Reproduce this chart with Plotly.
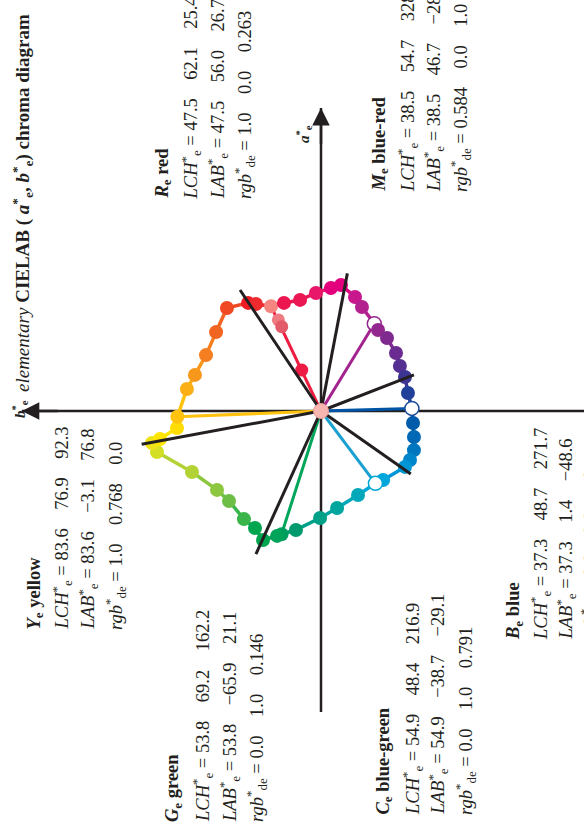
import plotly.graph_objects as go

# ---------------- data (CIELAB a*, b*) ----------------
# hue circle, going round from R_e
circle_a = [56.0, 57.8, 59.4, 63.1, 65.8, 67.4, 61.0, 55.6, 46.7, 43.3, 39.0, 31.0, 24.1, 18.2, 9.6,
            1.4, -6.4, -13.9, -20.9, -26.2, -29.9, -36.9, -38.7, -44.9, -51.9, -57.2, -63.6, -65.9,
            -66.8, -69.0, -62.6, -57.8, -48.1, -42.2, -32.6, -21.9, -17.1, -15.0, -9.1, -3.1,
            11.8, 19.3, 29.9, 42.2, 55.1, 57.8, 57.2]
circle_b = [26.7, 19.8, 11.2, 2.7, -5.3, -10.7, -18.2, -21.9, -28.5, -30.5, -35.3, -40.1, -42.2, -44.9, -46.5,
            -48.6, -49.2, -49.7, -49.7, -47.6, -44.9, -33.2, -29.1, -19.8, -8.6, 0.5, 13.4, 21.1,
            23.5, 31.0, 35.3, 41.2, 49.2, 55.6, 69.0, 87.7, 90.4, 86.1, 77.0, 76.8,
            71.7, 67.4, 61.5, 56.1, 50.3, 39.0, 34.8]
circle_fill = ["#F4857F", "#EC1651", "#EB1654", "#E8176A", "#E4007C", "#E2007F", "#C9168C", "#B3218F",
               "#FFFFFF", "#92278F", "#7F2A8F", "#6A2C91", "#553092", "#3D3594", "#21409A",
               "#FFFFFF", "#005BAA", "#0068B5", "#0076BF", "#0085CA", "#0096D6", "#00A6DC",
               "#FFFFFF", "#00A8BA", "#00A59E", "#00A187", "#009A6E", "#009E5E",
               "#00A35A", "#00A550", "#00A650", "#39B54A", "#6DBE45", "#8DC63F", "#B3D334",
               "#D3DE24", "#EEE31B", "#FFE500", "#FFDD00", "#FFC20E",
               "#FBAF17", "#F7981D", "#F47E20", "#F16522", "#EF4A24", "#ED1C24", "#EE2A2E"]
circle_line = ["#EE2A4E", "#EC1651", "#EB1654", "#E8176A", "#E4007C", "#E2007F", "#C9168C", "#B3218F",
               "#93278F", "#92278F", "#7F2A8F", "#6A2C91", "#553092", "#3D3594", "#21409A",
               "#1B4C9C", "#005BAA", "#0068B5", "#0076BF", "#0085CA", "#0096D6", "#00A6DC",
               "#00A6D6", "#00A8BA", "#00A59E", "#00A187", "#009A6E", "#009E5E",
               "#00A35A", "#00A550", "#00A650", "#39B54A", "#6DBE45", "#8DC63F", "#B3D334",
               "#D3DE24", "#EEE31B", "#FFE500", "#FFDD00", "#FFC20E",
               "#FBAF17", "#F7981D", "#F47E20", "#F16522", "#EF4A24", "#ED1C24", "#EE2A2E"]

# elementary hues: radial coloured lines from the origin
elem_names = ["R", "Y", "G", "C", "B", "M"]
elem_a = [56.0, -3.1, -65.9, -38.7, 1.4, 46.7]
elem_b = [26.7, 76.8, 21.1, -29.1, -48.6, -28.5]
elem_line_colors = ["#ED1C40", "#FFC20E", "#00A65A", "#1BA1D1", "#0054A6", "#A3238E"]

# extra dots on the red radial line
red_dots_a = [48.7, 45.1, 21.9]
red_dots_b = [22.8, 21.0, 10.3]
red_dots_colors = ["#EE7A82", "#E35A68", "#ED1C45"]

# black reference lines (end points a*, b*)
black_a = [64.7, 73.6, 19.3, -33.7, -17.8, -76.5]
black_b = [43.3, -14.1, -49.7, -48.0, 95.9, 34.8]

# text data
blocks = [
    ("<b><i>Y</i><sub>e</sub> yellow</b>", ["83.6", "76.9", "92.3"], ["83.6", "\u22123.1", "76.8"], ["1.0", "0.768", "0.0"]),
    ("<b><i>R</i><sub>e</sub> red</b>", ["47.5", "62.1", "25.4"], ["47.5", "56.0", "26.7"], ["1.0", "0.0", "0.263"]),
    ("<b><i>M</i><sub>e</sub> blue-red</b>", ["38.5", "54.7", "328.6"], ["38.5", "46.7", "\u221228.5"], ["0.584", "0.0", "1.0"]),
    ("<b><i>G</i><sub>e</sub> green</b>", ["53.8", "69.2", "162.2"], ["53.8", "\u221265.9", "21.1"], ["0.0", "1.0", "0.146"]),
    ("<b><i>C</i><sub>e</sub> blue-green</b>", ["54.9", "48.4", "216.9"], ["54.9", "\u221238.7", "\u221229.1"], ["0.0", "1.0", "0.791"]),
    ("<b><i>B</i><sub>e</sub> blue</b>", ["37.3", "48.7", "271.7"], ["37.3", "1.4", "\u221248.6"], ["0.0", "0.0", "1.0"]),
]
# layout of the text blocks (pixel columns of the 4 lines, bottom pixel row)
block_cols = [(35, 62, 88, 115), (163, 191, 218, 245), (380, 407, 433, 460),
              (173, 202, 229, 256), (384, 412, 438, 465), (514, 540, 566, 590)]
block_bottom = [630, 199, 192, 822, 815, 640]

W, H = 584, 826
S = 1.87          # px per CIELAB unit
CX, CY = 321, 411  # origin in px
xr = [(0 - CX) / S, (W - CX) / S]
yr = [(CY - H) / S, (CY - 0) / S]

fig = go.Figure()

n = len(circle_a)
# hue-circle segments
for i in range(n):
    j = (i + 1) % n
    fig.add_trace(go.Scatter(x=[-circle_b[i], -circle_b[j]], y=[circle_a[i], circle_a[j]],
                             mode="lines", line=dict(color=circle_line[i], width=3.5),
                             hoverinfo="skip"))
# radial coloured lines
for a, b, c in zip(elem_a, elem_b, elem_line_colors):
    fig.add_trace(go.Scatter(x=[0, -b], y=[0, a], mode="lines",
                             line=dict(color=c, width=3), hoverinfo="skip"))
# dots
fig.add_trace(go.Scatter(x=[-b for b in red_dots_b], y=red_dots_a, mode="markers",
                         marker=dict(size=13, color=red_dots_colors, line=dict(width=0))))
fig.add_trace(go.Scatter(x=[-b for b in circle_b], y=circle_a, mode="markers",
                         marker=dict(size=14, color=circle_fill,
                                     line=dict(color=circle_line, width=[1.5 if c == "#FFFFFF" else 0 for c in circle_fill]))))
# black lines
for a, b in zip(black_a, black_b):
    fig.add_trace(go.Scatter(x=[0, -b], y=[0, a], mode="lines",
                             line=dict(color="#231F20", width=3), hoverinfo="skip"))
# centre dot
fig.add_trace(go.Scatter(x=[0], y=[0], mode="markers",
                         marker=dict(size=15, color="#F7B6B0", line=dict(color="#E89A94", width=1))))

# axes
axis_len_b = 160
axis_len_a_top, axis_len_a_bot = 162, -161
shapes = [
    dict(type="line", xref="x", yref="y", x0=-axis_len_b, y0=0, x1=xr[1] + 5, y1=0,
         line=dict(color="#231F20", width=2.5), layer="below"),
    dict(type="line", xref="x", yref="y", x0=0, y0=axis_len_a_bot, x1=0, y1=axis_len_a_top,
         line=dict(color="#231F20", width=2.5), layer="below"),
]
annotations = [
    dict(x=-axis_len_b, y=0, ax=-axis_len_b + 20, ay=0, xref="x", yref="y", axref="x", ayref="y",
         showarrow=True, arrowhead=2, arrowsize=1.4, arrowwidth=2.5, arrowcolor="#231F20", text=""),
    dict(x=0, y=axis_len_a_top, ax=0, ay=axis_len_a_top - 20, xref="x", yref="y", axref="x", ayref="y",
         showarrow=True, arrowhead=2, arrowsize=1.4, arrowwidth=2.5, arrowcolor="#231F20", text=""),
]

FONT = "Liberation Serif"
def px(xp):
    return xp / W
def py(yp):
    return 1 - yp / H

def add_text(text, xp, yp, size=18.5, xanchor="center", yanchor="bottom"):
    annotations.append(dict(text=text, x=px(xp), y=py(yp), xref="paper", yref="paper",
                            showarrow=False, textangle=-90, xanchor=xanchor, yanchor=yanchor,
                            borderpad=0, borderwidth=0,
                            font=dict(family=FONT, size=size, color="#231F20")))

gap = "\u00a0" * 4
for (title, lch, lab, rgb), cols, bot in zip(blocks, block_cols, block_bottom):
    add_text(title, cols[0], bot)
    add_text("<i>LCH</i><sup>*</sup><sub>e</sub>\u00a0=\u00a0" + gap.join(lch), cols[1], bot)
    add_text("<i>LAB</i><sup>*</sup><sub>e</sub>\u00a0=\u00a0" + gap.join(lab), cols[2], bot)
    add_text("<i>rgb</i><sup>*</sup><sub>de</sub>\u00a0=\u00a0" + gap.join(rgb), cols[3], bot)

# title and axis labels
add_text("<i>elementary</i> <b>CIELAB</b> <b>(\u00a0<i>a</i><sup>*</sup><sub>e</sub>, <i>b</i><sup>*</sup><sub>e</sub>)</b> <b>chroma diagram</b>",
         22, 392, size=19)
add_text("<b><i>b</i><sup>*</sup><sub>e</sub></b>", 20, 409, size=15, yanchor="middle")
add_text("<b><i>a</i><sup>*</sup><sub>e</sub></b>", 304, 134, size=15, yanchor="middle")

fig.update_layout(
    width=W, height=H, margin=dict(l=0, r=0, t=0, b=0),
    paper_bgcolor="white", plot_bgcolor="white", showlegend=False,
    xaxis=dict(range=xr, visible=False, fixedrange=True),
    yaxis=dict(range=yr, visible=False, fixedrange=True),
    shapes=shapes, annotations=annotations,
)

fig.write_html("out.html", config={"displayModeBar": False},
               post_script="document.body.style.margin='0px';")
